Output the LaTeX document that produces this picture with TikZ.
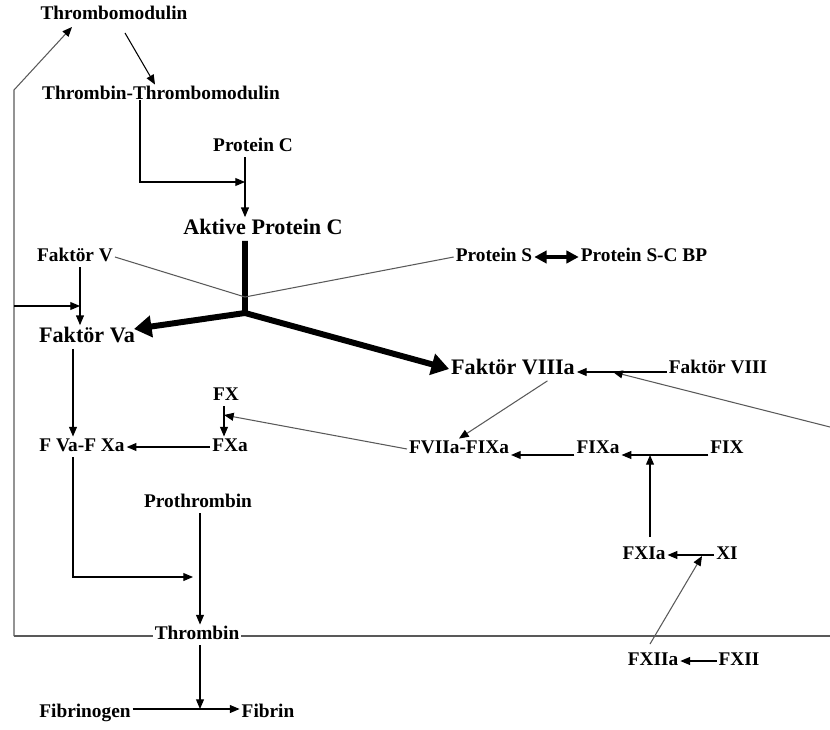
\documentclass[tikz,border=0pt]{standalone}
\usepackage{fontspec}
\setmainfont{Liberation Serif}
\usetikzlibrary{arrows.meta}
\tikzset{
    every node/.style={inner sep=1pt, text height=7.5pt, text depth=2pt,
    	font=\fontsize{11}{13}\selectfont\bfseries}
}
\tikzset{
    big/.style={text height=8.6pt, text depth=2.5pt,
    	font=\fontsize{12.6}{15}\selectfont\bfseries}
}
\tikzset{
    arr/.style={line width=0.6pt, -{Triangle[length=5.5pt,width=4.5pt,color=black]}},
    faint/.style={line width=0.6pt, draw=black!65},
    heavy/.style={line width=3.4pt},
    heavyarr/.style={heavy, -{Triangle[length=10pt,width=12pt]}},
    dbl/.style={line width=2.2pt, {Triangle[length=7pt,width=7pt]}-{Triangle[length=7pt,width=7pt]}}
}
\pgfdeclarelayer{background}
\pgfsetlayers{background,main}
\begin{document}
\begin{tikzpicture}[x=0.02cm,y=-0.02cm]
  \useasboundingbox (0,0) rectangle (830,729);

  \node (tmod) at (114,15) {Thrombomodulin};
  \node (ttm) at (161,95) {Thrombin-Thrombomodulin};
  \node (pc) at (253,147) {Protein C};
  \node (apc) [big] at (263,229) {Aktive Protein C};
  \node (fv) at (75,257) {Faktör V};
  \node (ps) at (494,257) {Protein S};
  \node (psbp) at (644,257) {Protein S-C BP};
  \node (fva) [big] at (87,337) {Faktör Va};
  \node (f8a) [big] at (513,369) {Faktör VIIIa};
  \node (f8) at (718,369) {Faktör VIII};
  \node (fx) at (226,396) {FX};
  \node (fvaxa) at (82,447) {F Va-F Xa};
  \node (fxa) at (230,447) {FXa};
  \node (f7a9a) at (459,449) {FVIIa-FIXa};
  \node (f9a) at (598,449) {FIXa};
  \node (f9) at (727,449) {FIX};
  \node (pth) at (198,503) {Prothrombin};
  \node (f11a) at (644,555) {FXIa};
  \node (f11) at (727,555) {XI};
  \node (thr) [fill=white] at (197,635) {Thrombin};
  \node (f12a) at (653,661) {FXIIa};
  \node (f12) at (739,661) {FXII};
  \node (fbg) at (85,713) {Fibrinogen};
  \node (fbn) at (268,713) {Fibrin};

  % bends and free ends
  \coordinate (tmout) at (125,33);
  \coordinate (tmin) at (72,27);
  \coordinate (lt) at (14,90);
  \coordinate (lm) at (14,306);
  \coordinate (lb) at (14,636);
  \coordinate (rb) at (830,636);
  \coordinate (ttmdown) at (140,100);
  \coordinate (pcin) at (245,182);
  \coordinate (fvin) at (80,306);
  \coordinate (cross) at (245,297);
  \coordinate (hub) at (245,313);
  \coordinate (fvain) at (134,329);
  \coordinate (vline) at (73,577);
  \coordinate (pthin) at (193,577);
  \coordinate (fxin) at (224,415);
  \coordinate (f8in) at (613,372);
  \coordinate (rr) at (830,427);
  \coordinate (f9in) at (650,455);
  \coordinate (f11out) at (650,537);
  \coordinate (f11in) at (702,556);
  \coordinate (f12out) at (650,644);
  \coordinate (fibin) at (200,709);

  \begin{pgfonlayer}{background}
    \draw[faint] (rb) -- (lb);
  \end{pgfonlayer}
  \draw[faint, arr] (lb) -- (lt) -- (tmin);
  \draw[arr] (lm) -- (fvin);

  \draw[arr] (tmout) -- (ttm.north -| 155,0);
  \draw[arr] (ttmdown) |- (pcin);
  \draw[arr] (pc.south -| pcin) -- (apc.north -| pcin);

  \draw[heavyarr] (apc.south -| hub) -- (hub) -- (fvain);
  \draw[heavyarr] (hub) -- (f8a.west);
  \draw[faint] (fv.east) -- (cross) -- (ps.west);
  \draw[dbl] (ps.east) -- (psbp.west);

  \draw[arr] (fv.south -| fvin) -- (fva.north -| fvin);
  \draw[arr] (fva.south -| vline) -- (fvaxa.north -| vline);
  \draw[arr] (fvaxa.south -| vline) -- (vline) -- (pthin);
  \draw[arr] (fx.south -| fxin) -- (fxa.north -| fxin);
  \draw[arr] (fxa.west) -- (fvaxa.east);
  \draw[faint, arr] (f7a9a.west) -- (fxin);

  \draw[faint, arr] (f8a.-19) -- (f7a9a.north);
  \draw[arr] (f8.west |- f8in) -- (f8a.east |- f8in);
  \draw[faint, arr] (rr) -- (f8in);
  \draw[arr] (f9a.west |- f9in) -- (f7a9a.east |- f9in);
  \draw[arr] (f9.west |- f9in) -- (f9a.east |- f9in);
  \draw[arr] (f11out) -- (f9in);
  \draw[arr] (f11.west) -- (f11a.east);
  \draw[faint, arr] (f12out) -- (f11in);
  \draw[arr] (f12.west) -- (f12a.east);

  \draw[arr] (pth.south -| fibin) -- (thr.north -| fibin);
  \draw[arr] (thr.south -| fibin) -- (fibin);
  \draw[arr] (fbg.east |- fibin) -- (fbn.west |- fibin);
\end{tikzpicture}
\end{document}
